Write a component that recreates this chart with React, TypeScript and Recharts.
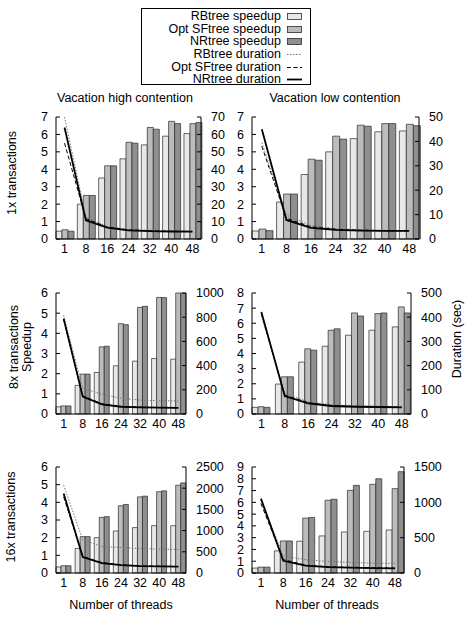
import { Bar, ComposedChart, Line, XAxis, YAxis } from "recharts";

const threads = [1, 8, 16, 24, 32, 40, 48];
const xTicks = [0, 1, 2, 3, 4, 5, 6];

const seriesNames = [
  "RBtree speedup",
  "Opt SFtree speedup",
  "NRtree speedup",
  "RBtree duration",
  "Opt SFtree duration",
  "NRtree duration",
];

// 1x transactions, high contention
const hc1RbSpeedup = [0.45, 2.0, 3.5, 4.6, 5.4, 5.9, 6.05];
const hc1OptSpeedup = [0.53, 2.5, 4.2, 5.55, 6.4, 6.75, 6.62];
const hc1NrSpeedup = [0.45, 2.5, 4.2, 5.5, 6.3, 6.62, 6.68];
const hc1RbDuration = [70, 12.7, 7, 5.5, 5, 4.6, 4.5];
const hc1OptDuration = [55, 11.8, 6.8, 5.3, 4.7, 4.4, 4.3];
const hc1NrDuration = [64, 10.7, 6.5, 5, 4.5, 4.3, 4.2];

// 1x transactions, low contention
const lc1RbSpeedup = [0.46, 2.12, 3.7, 5.0, 5.76, 6.15, 6.2];
const lc1OptSpeedup = [0.57, 2.58, 4.58, 5.9, 6.53, 6.62, 6.58];
const lc1NrSpeedup = [0.48, 2.58, 4.52, 5.73, 6.47, 6.62, 6.5];
const lc1RbDuration = [39.5, 9.8, 5.5, 4.2, 3.8, 3.5, 3.4];
const lc1OptDuration = [38, 8.5, 5, 4, 3.6, 3.4, 3.3];
const lc1NrDuration = [45, 7.8, 4.6, 3.7, 3.4, 3.3, 3.3];

// 8x transactions, high contention
const hc8RbSpeedup = [0.36, 1.42, 2.06, 2.39, 2.62, 2.75, 2.72];
const hc8OptSpeedup = [0.4, 1.98, 3.33, 4.48, 5.29, 5.78, 6.0];
const hc8NrSpeedup = [0.4, 1.98, 3.36, 4.43, 5.34, 5.77, 6.0];
const hc8RbDuration = [815, 212, 165, 130, 115, 110, 107];
const hc8OptDuration = [780, 150, 85, 63, 57, 53, 51];
const hc8NrDuration = [788, 143, 80, 60, 55, 52, 50];

// 8x transactions, low contention
const lc8RbSpeedup = [0.44, 1.98, 3.43, 4.48, 5.21, 5.54, 5.76];
const lc8OptSpeedup = [0.48, 2.46, 4.31, 5.54, 6.68, 6.64, 7.08];
const lc8NrSpeedup = [0.44, 2.46, 4.22, 5.63, 6.48, 6.68, 6.68];
const lc8RbDuration = [405, 85, 51, 38, 34, 32, 30];
const lc8OptDuration = [415, 78, 47, 35, 31, 30, 28];
const lc8NrDuration = [422, 74, 44, 33, 30, 29, 27.5];

// 16x transactions, high contention
const hc16RbSpeedup = [0.34, 1.39, 2.0, 2.38, 2.57, 2.68, 2.68];
const hc16OptSpeedup = [0.41, 2.06, 3.15, 3.81, 4.31, 4.6, 4.97];
const hc16NrSpeedup = [0.41, 2.06, 3.19, 3.88, 4.35, 4.65, 5.1];
const hc16RbDuration = [2070, 781, 625, 600, 578, 563, 555];
const hc16OptDuration = [1797, 390, 245, 195, 170, 160, 152];
const hc16NrDuration = [1875, 375, 235, 188, 164, 156, 148];

// 16x transactions, low contention
const lc16RbSpeedup = [0.42, 1.88, 2.7, 3.15, 3.48, 3.54, 3.65];
const lc16OptSpeedup = [0.5, 2.72, 4.66, 6.18, 7.02, 7.53, 7.16];
const lc16NrSpeedup = [0.5, 2.72, 4.72, 6.26, 7.44, 8.0, 8.6];
const lc16RbDuration = [1030, 243, 187, 164, 150, 140, 136];
const lc16OptDuration = [983, 190, 110, 88, 78, 73, 69];
const lc16NrDuration = [1053, 173, 103, 84, 75, 70, 66];

const speedupTicks7 = [0, 1, 2, 3, 4, 5, 6, 7];
const speedupTicks6 = [0, 1, 2, 3, 4, 5, 6];
const speedupTicks8 = [0, 1, 2, 3, 4, 5, 6, 7, 8];
const speedupTicks9 = [0, 1, 2, 3, 4, 5, 6, 7, 8, 9];
const durationTicks70 = [0, 10, 20, 30, 40, 50, 60, 70];
const durationTicks50 = [0, 10, 20, 30, 40, 50];
const durationTicks1000 = [0, 200, 400, 600, 800, 1000];
const durationTicks500 = [0, 100, 200, 300, 400, 500];
const durationTicks2500 = [0, 500, 1000, 1500, 2000, 2500];
const durationTicks1500 = [0, 500, 1000, 1500];

const FONT = '"Liberation Sans", Arial, Helvetica, sans-serif';
const FS = 12.5;

const colors = {
  rb: "#e8e8e8",
  opt: "#bcbcbc",
  nr: "#8f8f8f",
  outline: "#2a2a2a",
  dotted: "#777",
  ink: "#000",
};

type PanelDef = {
  x: number;
  y: number;
  w: number;
  h: number;
  series: number[][];
  sTicks: number[];
  dTicks: number[];
};

const panels: PanelDef[] = [
  {
    x: 56, y: 117, w: 145, h: 122,
    series: [hc1RbSpeedup, hc1OptSpeedup, hc1NrSpeedup, hc1RbDuration, hc1OptDuration, hc1NrDuration],
    sTicks: speedupTicks7, dTicks: durationTicks70,
  },
  {
    x: 252, y: 117, w: 167, h: 122,
    series: [lc1RbSpeedup, lc1OptSpeedup, lc1NrSpeedup, lc1RbDuration, lc1OptDuration, lc1NrDuration],
    sTicks: speedupTicks7, dTicks: durationTicks50,
  },
  {
    x: 56, y: 293, w: 130, h: 121,
    series: [hc8RbSpeedup, hc8OptSpeedup, hc8NrSpeedup, hc8RbDuration, hc8OptDuration, hc8NrDuration],
    sTicks: speedupTicks6, dTicks: durationTicks1000,
  },
  {
    x: 252, y: 293, w: 159, h: 121,
    series: [lc8RbSpeedup, lc8OptSpeedup, lc8NrSpeedup, lc8RbDuration, lc8OptDuration, lc8NrDuration],
    sTicks: speedupTicks8, dTicks: durationTicks500,
  },
  {
    x: 56, y: 467, w: 130, h: 106,
    series: [hc16RbSpeedup, hc16OptSpeedup, hc16NrSpeedup, hc16RbDuration, hc16OptDuration, hc16NrDuration],
    sTicks: speedupTicks6, dTicks: durationTicks2500,
  },
  {
    x: 252, y: 467, w: 152, h: 106,
    series: [lc16RbSpeedup, lc16OptSpeedup, lc16NrSpeedup, lc16RbDuration, lc16OptDuration, lc16NrDuration],
    sTicks: speedupTicks9, dTicks: durationTicks1500,
  },
];

const tickStyle = { fill: colors.ink, fontSize: FS, fontFamily: FONT };

function Panel({ p }: { p: PanelDef }) {
  const padL = 40;
  const padR = 46;
  const padT = 6;
  const padB = 26;
  const data = threads.map((t, i) => ({
    i,
    t,
    rbS: p.series[0][i],
    optS: p.series[1][i],
    nrS: p.series[2][i],
    rbD: p.series[3][i],
    optD: p.series[4][i],
    nrD: p.series[5][i],
  }));
  const sMax = p.sTicks[p.sTicks.length - 1];
  const dMax = p.dTicks[p.dTicks.length - 1];

  return (
    <div style={{ position: "absolute", left: p.x - padL, top: p.y - padT }}>
      <ComposedChart
        width={padL + p.w + padR}
        height={padT + p.h + padB}
        data={data}
        margin={{ top: padT, right: 0, bottom: 0, left: 0 }}
        barGap={0}
        barCategoryGap="10%"
      >
        <XAxis
          xAxisId="b"
          dataKey="i"
          type="number"
          domain={[-0.4, 6.4]}
          ticks={xTicks}
          interval={0}
          tickFormatter={(v) => String(threads[v])}
          height={padB}
          tickLine={false}
          tickSize={0}
          tickMargin={5}
          stroke={colors.ink}
          tick={tickStyle}
        />
        <XAxis
          xAxisId="t"
          dataKey="i"
          type="number"
          orientation="top"
          domain={[-0.4, 6.4]}
          ticks={xTicks}
          interval={0}
          height={0}
          mirror
          tick={false}
          tickSize={4}
          stroke={colors.ink}
        />
        <YAxis
          yAxisId="s"
          domain={[0, sMax]}
          ticks={p.sTicks}
          interval={0}
          width={padL}
          tickSize={-4}
          tickMargin={12}
          stroke={colors.ink}
          tick={tickStyle}
        />
        <YAxis
          yAxisId="d"
          orientation="right"
          domain={[0, dMax]}
          ticks={p.dTicks}
          interval={0}
          width={padR}
          tickSize={-4}
          tickMargin={14}
          stroke={colors.ink}
          tick={tickStyle}
        />
        <Bar xAxisId="b" yAxisId="s" dataKey="rbS" fill={colors.rb} stroke={colors.outline} strokeWidth={0.7} isAnimationActive={false} />
        <Bar xAxisId="b" yAxisId="s" dataKey="optS" fill={colors.opt} stroke={colors.outline} strokeWidth={0.7} isAnimationActive={false} />
        <Bar xAxisId="b" yAxisId="s" dataKey="nrS" fill={colors.nr} stroke={colors.outline} strokeWidth={0.7} isAnimationActive={false} />
        <Line xAxisId="b" yAxisId="d" dataKey="rbD" type="linear" stroke={colors.dotted} strokeWidth={1} strokeDasharray="1.5 1.5" dot={false} isAnimationActive={false} />
        <Line xAxisId="b" yAxisId="d" dataKey="optD" type="linear" stroke={colors.ink} strokeWidth={1} strokeDasharray="4 2.5" dot={false} isAnimationActive={false} />
        <Line xAxisId="b" yAxisId="d" dataKey="nrD" type="linear" stroke={colors.ink} strokeWidth={1.8} dot={false} isAnimationActive={false} />
      </ComposedChart>
    </div>
  );
}

function Text({
  x,
  y,
  children,
  rotate,
}: {
  x: number;
  y: number;
  children: React.ReactNode;
  rotate?: boolean;
}) {
  return (
    <div
      style={{
        position: "absolute",
        left: x,
        top: y,
        transform: `translate(-50%, -50%)${rotate ? " rotate(-90deg)" : ""}`,
        whiteSpace: "nowrap",
        fontSize: FS,
        lineHeight: "13px",
        color: colors.ink,
        textAlign: "center",
      }}
    >
      {children}
    </div>
  );
}

function LegendBox() {
  const swatches = [
    { kind: "bar", fill: colors.rb },
    { kind: "bar", fill: colors.opt },
    { kind: "bar", fill: colors.nr },
    { kind: "line", dash: "1.5 1.5", stroke: colors.dotted, w: 1 },
    { kind: "line", dash: "4 2.5", stroke: colors.ink, w: 1 },
    { kind: "line", dash: undefined, stroke: colors.ink, w: 1.8 },
  ];
  return (
    <div
      style={{
        position: "absolute",
        left: 141,
        top: 8,
        width: 168,
        height: 75,
        border: "1px solid #000",
      }}
    >
      {seriesNames.map((name, k) => {
        const s = swatches[k];
        return (
          <div
            key={name}
            style={{
              position: "absolute",
              right: 7,
              top: 1 + k * 12.65,
              height: 13,
              display: "flex",
              alignItems: "center",
              fontSize: FS,
              lineHeight: "13px",
            }}
          >
            <span>{name}</span>
            <svg width={16} height={9} style={{ marginLeft: 6 }}>
              {s.kind === "bar" ? (
                <rect x={0.5} y={1.5} width={14} height={6} fill={s.fill} stroke={colors.outline} strokeWidth={0.8} />
              ) : (
                <line x1={0} x2={15} y1={4.5} y2={4.5} stroke={s.stroke} strokeWidth={s.w} strokeDasharray={s.dash} />
              )}
            </svg>
          </div>
        );
      })}
    </div>
  );
}

export default function App() {
  return (
    <div
      style={{
        position: "absolute",
        left: 0,
        top: 0,
        width: 466,
        height: 622,
        background: "#fff",
        fontFamily: FONT,
        overflow: "hidden",
      }}
    >
      <LegendBox />
      <Text x={125} y={98}>Vacation high contention</Text>
      <Text x={335} y={98}>Vacation low contention</Text>
      <Text x={12} y={173} rotate>1x transactions</Text>
      <Text x={21} y={347} rotate>
        8x transactions
        <br />
        Speedup
      </Text>
      <Text x={11} y={517} rotate>16x transactions</Text>
      <Text x={457} y={339} rotate>Duration (sec)</Text>
      <Text x={121} y={605}>Number of threads</Text>
      <Text x={327} y={605}>Number of threads</Text>
      {panels.map((p, k) => (
        <Panel key={k} p={p} />
      ))}
    </div>
  );
}
